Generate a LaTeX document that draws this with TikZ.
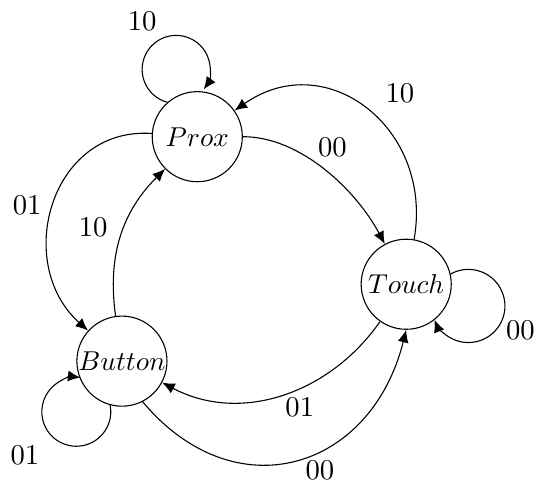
\documentclass[tikz,border=0pt]{standalone}
\usetikzlibrary{arrows.meta}
\begin{document}
\begin{tikzpicture}[>={Latex[length=4.6pt,width=4pt]}, font=\fontsize{10.5}{12}\selectfont]
		\tikzstyle{state} = [circle, draw, minimum size=1.16cm, inner sep=0pt, font=\normalsize]
		\useasboundingbox (0,0) rectangle (7.03,6.27);
		\node [state] (P) at (2.54,4.51) {$Prox$};
		\node [state] (T) at (5.23,2.61) {$Touch$};
		\node [state] (B) at (1.57,1.62) {$Button$};
		\node (pp) at (1.83,5.99) {10};
		\node (pt) at (4.28,4.37) {00};
		\node (tp) at (5.15,5.07) {10};
		\node (pb) at (0.35,3.63) {01};
		\node (bp) at (1.20,3.34) {10};
		\node (tt) at (6.70,2.02) {00};
		\node (tb) at (3.86,1.02) {01};
		\node (bt) at (4.12,0.22) {00};
		\node (bb) at (0.32,0.41) {01};
		% self loops
		\draw [->] (P.131) arc [start angle=255, end angle=-36, radius=0.438];
		\draw [->] (T.13) arc [start angle=119, end angle=-158, radius=0.471];
		\draw [->] (B.255) arc [start angle=11, end angle=-277, radius=0.444];
		% transitions
		\draw [->] (P) to [out=0, in=118, looseness=0.85] (T);
		\draw [->] (T) to [out=80, in=35, looseness=1.3] (P);
		\draw [->] (P) to [out=176, in=138, looseness=1.25] (B);
		\draw [->] (B) to [out=98, in=225] (P);
		\draw [->] (T) to [out=235, in=-28] (B);
		\draw [->] (B.297) to [out=310, in=256, looseness=1.35] (T.270);
	\end{tikzpicture}
\end{document}
